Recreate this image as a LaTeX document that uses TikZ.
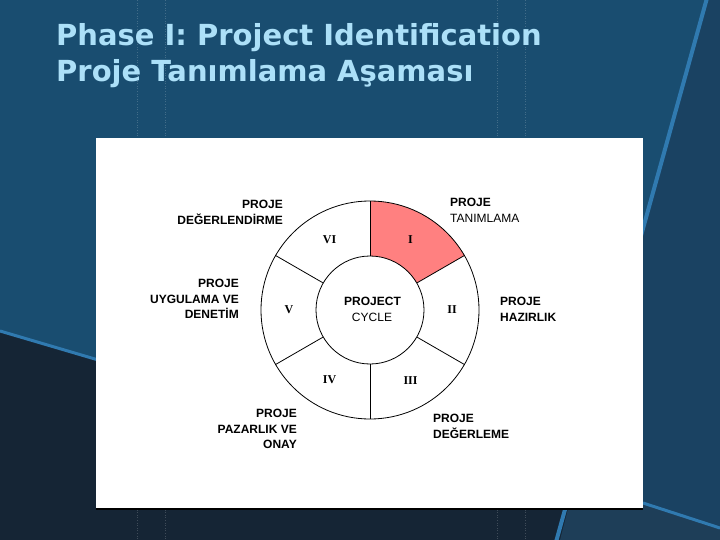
\documentclass[tikz,border=0pt]{standalone}
\usepackage{fontspec}
\setmainfont{Liberation Sans}
\newfontfamily\titlefont{DejaVu Sans}
\newfontfamily\romanfont{Liberation Serif}
\definecolor{bgmain}{RGB}{25,77,112}
\definecolor{bgright}{RGB}{26,66,98}
\definecolor{bgdark}{RGB}{21,37,53}
\definecolor{bgbr}{RGB}{30,62,88}
\definecolor{streak}{RGB}{48,122,176}
\definecolor{titlecol}{RGB}{172,224,248}
\definecolor{salmon}{RGB}{255,128,128}
\tikzset{
  lbl/.style={inner sep=0pt, font=\fontsize{12}{15.5}\selectfont\bfseries},
  rom/.style={inner sep=0pt, font=\romanfont\fontsize{12}{14}\selectfont\bfseries},
  ring/.style={circle, draw=black, line width=0.8pt, inner sep=0pt},
  divider/.style={draw=black, line width=0.8pt},
  guide/.style={draw=white, opacity=0.18, line width=0.6pt, dotted},
  ttl/.style={inner sep=0pt, anchor=base west, text=titlecol, font=\titlefont\fontsize{29}{34}\selectfont\bfseries}
}
\begin{document}
\begin{tikzpicture}[x=1pt,y=1pt]
\useasboundingbox (0,0) rectangle (720,-540);
% background
\fill[bgmain] (0,0) rectangle (720,-540);
\fill[bgright] (707,0) -- (720,0) -- (720,-540) -- (556,-540) -- cycle;
\fill[bgdark] (0,-332) -- (643,-520) -- (643,-540) -- (0,-540) -- cycle;
\fill[bgdark] (0,-509) rectangle (564,-540);
\fill[bgbr] (643,-503) -- (720,-528) -- (720,-540) -- (560,-540) -- (568,-509) -- (643,-509) -- cycle;
\draw[streak, line width=3pt] (0,-331) -- (200,-390);
\draw[streak, line width=3pt] (643,-503) -- (720,-528);
\draw[streak, line width=4pt] (707,2) -- (556,-542);
% guides
\foreach \gx in {137,165,497,525} \draw[guide] (\gx,0) -- (\gx,-540);
% title
\node[ttl] (t1) at (56,-46) {Phase I: Project Identification};
\node[ttl] (t2) at (56,-82) {Proje Tanımlama Aşaması};
% panel
\fill[white] (96,-138) rectangle (643,-509);
\draw[black, line width=1.2pt] (96,-509) -- (643,-509);
% sector I
\begin{scope}[shift={(370,-310)}]
\fill[salmon] (30:54) -- (30:109) arc[start angle=30, end angle=90, radius=109] -- (90:54) arc[start angle=90, end angle=30, radius=54] -- cycle;
\end{scope}
\node[ring, minimum size=218pt] (outer) at (370,-310) {};
\node[ring, minimum size=108pt] (inner) at (370,-310) {};
\foreach \a in {30,90,150,210,270,330} \draw[divider] (inner.\a) -- (outer.\a);
% numerals
\begin{scope}[shift={(370,-310)}]
\node[rom] (r1) at (60:81) {I};
\node[rom] (r2) at (0:82) {II};
\node[rom] (r3) at (-60:81) {III};
\node[rom] (r4) at (-120:81) {IV};
\node[rom] (r5) at (180:81) {V};
\node[rom] (r6) at (120:81) {VI};
\end{scope}
% centre
\node[lbl, anchor=base] (cp) at (372.5,-305) {PROJECT};
\node[lbl, anchor=base, font=\fontsize{12}{15.5}\selectfont] (cc) at (372,-321.5) {CYCLE};
% labels
\node[lbl, anchor=north east, align=right] (l6) at (283,-200.4) {PROJE\\DEĞERLENDİRME};
\node[lbl, anchor=north west, align=left] (l1) at (450,-198.4) {PROJE\\\mdseries TANIMLAMA};
\node[lbl, anchor=north east, align=right] (l5) at (239,-279.4) {PROJE\\UYGULAMA VE\\DENETİM};
\node[lbl, anchor=north west, align=left] (l2) at (500,-297.4) {PROJE\\HAZIRLIK};
\node[lbl, anchor=north east, align=right] (l4) at (297,-409.4) {PROJE\\PAZARLIK VE\\ONAY};
\node[lbl, anchor=north west, align=left] (l3) at (433,-414.4) {PROJE\\DEĞERLEME};
\end{tikzpicture}
\end{document}
